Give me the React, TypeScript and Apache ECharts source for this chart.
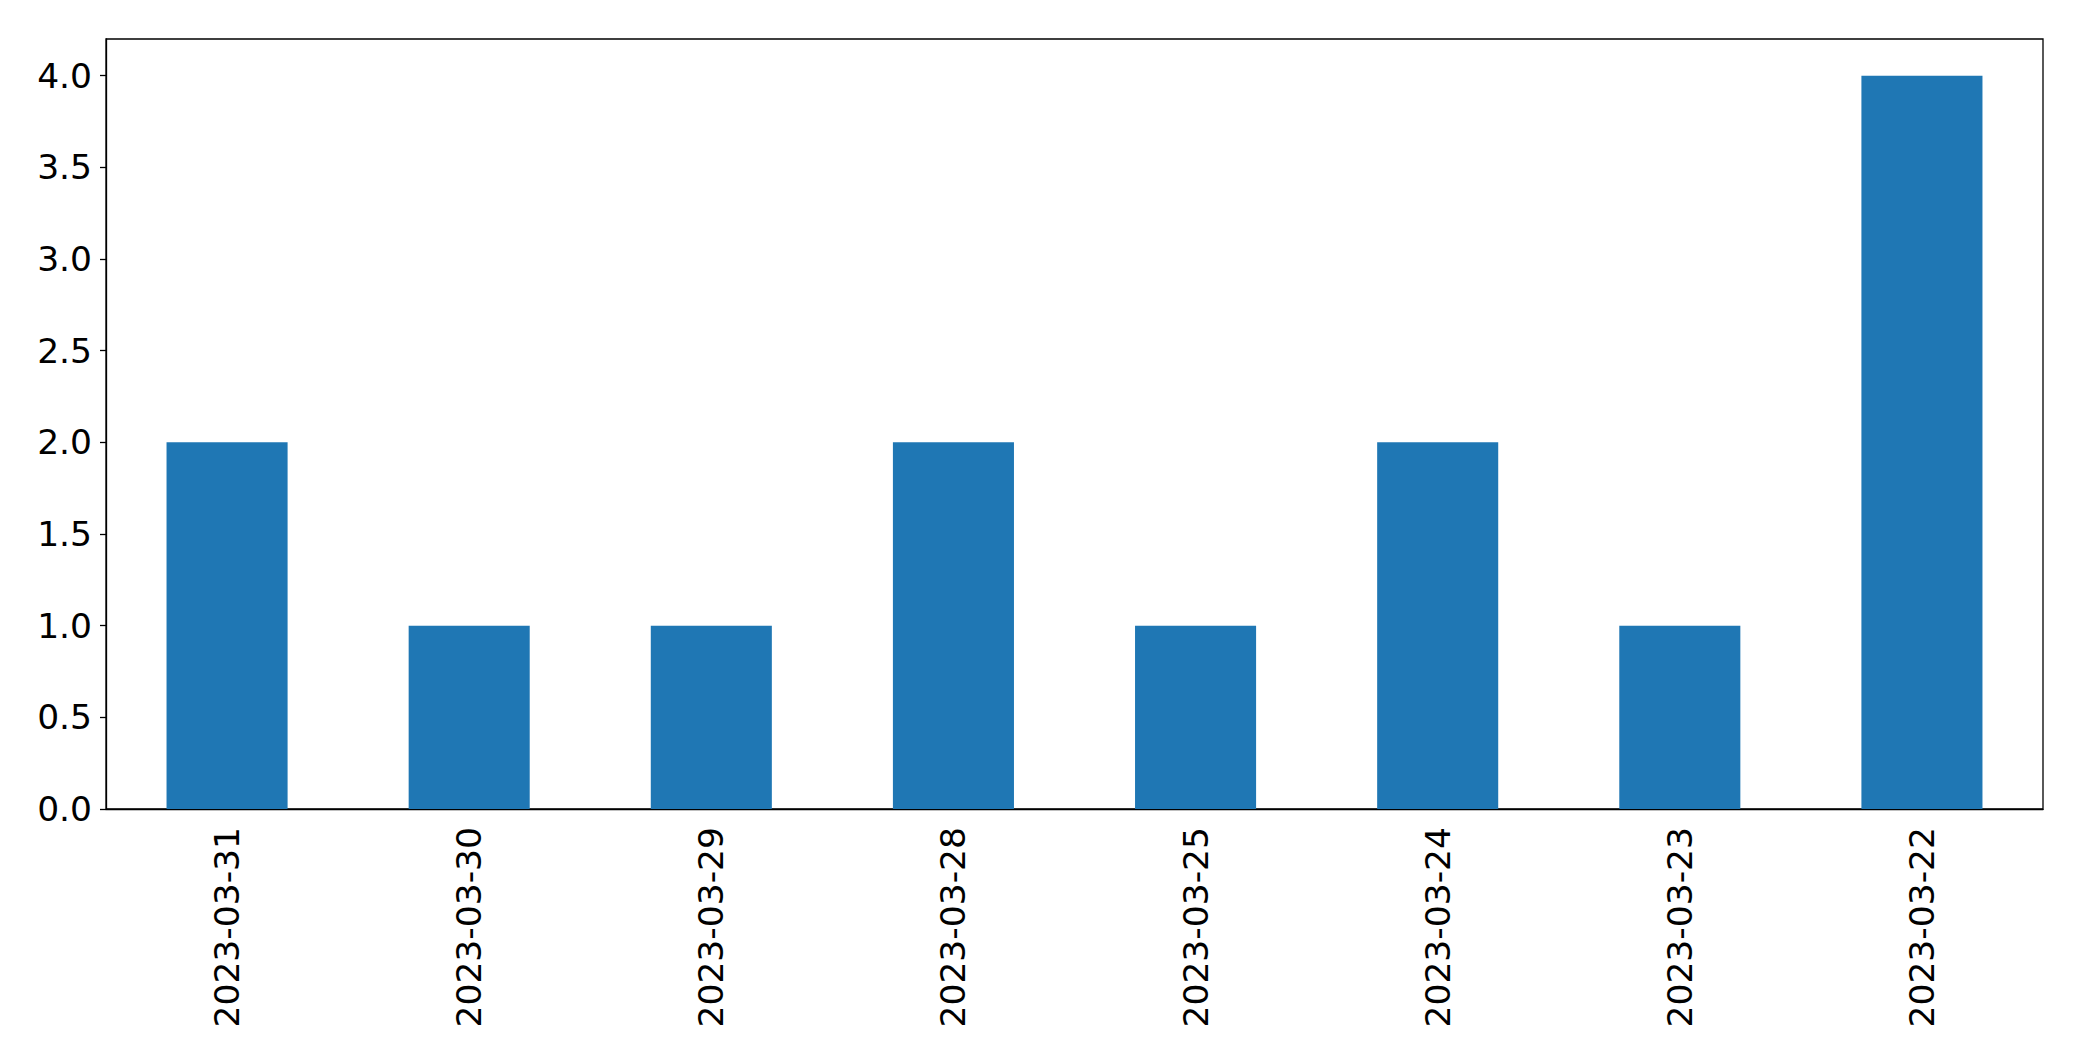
import React, { useEffect, useRef } from "react";
import * as echarts from "echarts";

const categories = ["2023-03-31", "2023-03-30", "2023-03-29", "2023-03-28", "2023-03-25", "2023-03-24", "2023-03-23", "2023-03-22"];
const values = [2, 1, 1, 2, 1, 2, 1, 4];

export default function App() {
  const ref = useRef<HTMLDivElement>(null);
  useEffect(() => {
    const chart = echarts.init(ref.current!, undefined, { renderer: "svg" });
    chart.setOption({
      animation: false,
      backgroundColor: "#ffffff",
      grid: {
        left: 106,
        right: 39,
        top: 39,
        bottom: 252,
        show: true,
        borderColor: "#000000",
        borderWidth: 1.3,
        containLabel: false,
      },
      xAxis: {
        type: "category",
        data: categories,
        boundaryGap: true,
        axisLine: { lineStyle: { color: "#000000", width: 1.3 } },
        axisTick: { alignWithLabel: true, length: 6, lineStyle: { color: "#000000", width: 1.3 } },
        axisLabel: {
          rotate: 90,
          margin: 18,
          color: "#000000",
          fontSize: 34.5,
          fontFamily: "DejaVu Sans",
          interval: 0,
        },
      },
      yAxis: {
        type: "value",
        min: 0,
        max: 4.2,
        interval: 0.5,
        splitLine: { show: false },
        axisLine: { show: true, lineStyle: { color: "#000000", width: 1.3 } },
        axisTick: { show: true, length: 6, lineStyle: { color: "#000000", width: 1.3 } },
        axisLabel: {
          margin: 14,
          color: "#000000",
          fontSize: 34.5,
          fontFamily: "DejaVu Sans",
          showMaxLabel: false,
          formatter: (v: number) => (Math.abs(v * 2 - Math.round(v * 2)) < 1e-6 ? v.toFixed(1) : ""),
        },
      },
      series: [
        {
          type: "bar",
          data: values,
          barWidth: "50%",
          itemStyle: { color: "#1f77b4" },
        },
      ],
    });
    return () => chart.dispose();
  }, []);
  return <div ref={ref} style={{ width: 2082, height: 1061, position: "absolute", left: 0, top: 0 }} />;
}
